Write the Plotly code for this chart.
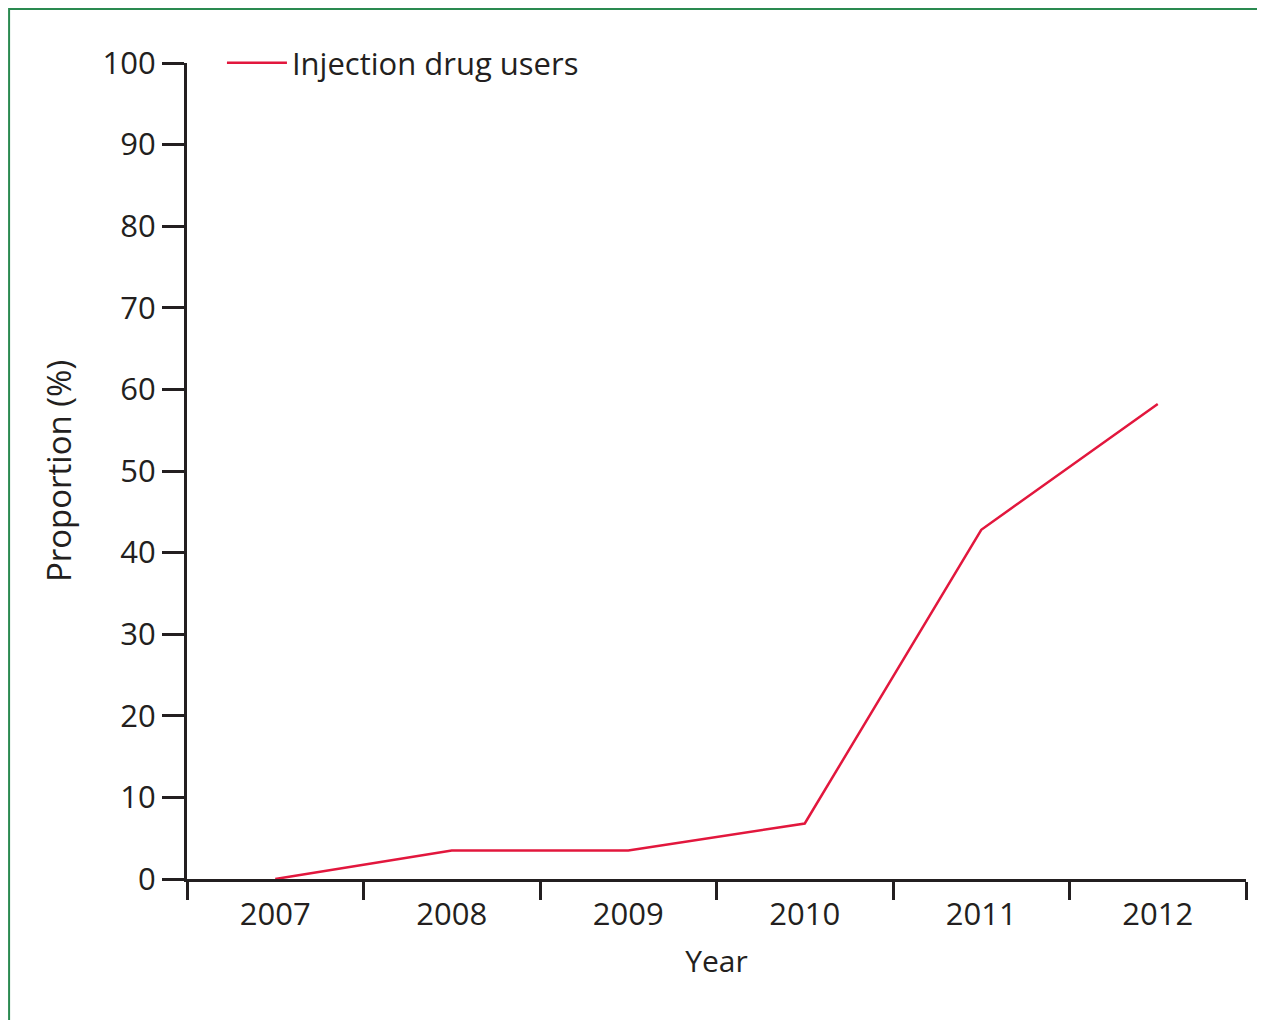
import plotly.graph_objects as go

years = ["2007", "2008", "2009", "2010", "2011", "2012"]
idu_pct = [0, 3.5, 3.5, 6.8, 42.8, 58.2]
series_name = "Injection drug users"
y_ticks = [0, 10, 20, 30, 40, 50, 60, 70, 80, 90, 100]

TEXT = "#231f20"
FONT = "Open Sans"

fig = go.Figure()
fig.add_trace(go.Scatter(
    x=years, y=idu_pct, mode="lines", name=series_name,
    line=dict(color="#e2173d", width=2.5),
))

fig.update_layout(
    width=1265, height=1020,
    margin=dict(l=179, r=27, t=55, b=149),
    paper_bgcolor="white", plot_bgcolor="white",
    font=dict(family=FONT, size=31, color=TEXT),
    showlegend=True,
    legend=dict(x=0.033, y=1.0, xanchor="left", yanchor="middle", itemwidth=60,
                bgcolor="rgba(0,0,0,0)", font=dict(size=31, color=TEXT)),
    xaxis=dict(
        type="category", range=[-0.5, 5.5],
        showline=True, linecolor=TEXT, linewidth=3,
        ticks="outside", tickson="boundaries", ticklen=18, tickwidth=3, tickcolor=TEXT,
        showgrid=False, zeroline=False,
        tickfont=dict(size=31), ticklabelstandoff=6,
        title=dict(text="Year", standoff=18, font=dict(size=30)),
    ),
    yaxis=dict(
        range=[0, 100], tickvals=y_ticks,
        showline=True, linecolor=TEXT, linewidth=3,
        ticks="outside", ticklen=22, tickwidth=2.5, tickcolor=TEXT,
        showgrid=False, zeroline=False,
        tickfont=dict(size=31),
        title=dict(text="Proportion (%)", standoff=22, font=dict(size=33)),
    ),
    shapes=[dict(type="rect", xref="paper", yref="paper",
                 x0=-0.168, x1=1.3, y0=-0.25, y1=1.0662,
                 line=dict(color="#2a8a50", width=2), fillcolor="rgba(0,0,0,0)",
                 layer="below")],
)

fig.write_html("out.html")
